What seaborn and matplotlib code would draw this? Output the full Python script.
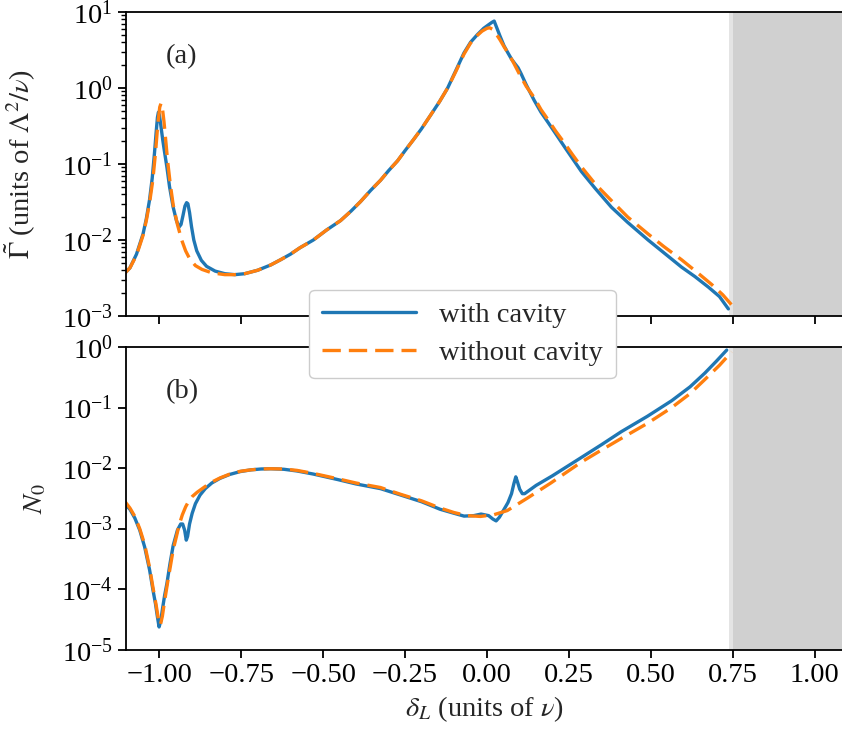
import numpy as np
import pandas as pd
import seaborn as sns
import matplotlib
matplotlib.use("Agg")
import matplotlib.pyplot as plt
from matplotlib.ticker import LogLocator, NullLocator

# ---------------- data ----------------
# Panel (a): Gamma tilde, with cavity
g_cav_x = [-1.107, -1.09, -1.07, -1.05, -1.04, -1.03, -1.022, -1.015, -1.010, -1.006,
           -1.003, -1.000, -0.996, -0.990, -0.985, -0.977, -0.969, -0.958, -0.948, -0.940,
           -0.934, -0.928, -0.922, -0.917, -0.913, -0.908, -0.902, -0.895, -0.886, -0.872,
           -0.856, -0.83, -0.80, -0.77, -0.74, -0.70, -0.66, -0.63, -0.60, -0.571,
           -0.53, -0.49, -0.447, -0.415, -0.386, -0.355, -0.325, -0.30, -0.273, -0.25,
           -0.224, -0.20, -0.172, -0.145, -0.12, -0.095, -0.07, -0.05, -0.03, -0.01,
           0.005, 0.015, 0.022, 0.03, 0.04, 0.052, 0.064, 0.075, 0.085, 0.095,
           0.104, 0.12, 0.144, 0.165, 0.187, 0.21, 0.236, 0.26, 0.288, 0.33,
           0.38, 0.43, 0.492, 0.54, 0.594, 0.635, 0.676, 0.71, 0.737]
g_cav_y = [3.6e-3, 4.3e-3, 6.5e-3, 1.2e-2, 0.019, 0.034, 0.065, 0.14, 0.26, 0.41,
           0.48, 0.44, 0.33, 0.21, 0.15, 0.09, 0.05, 0.027, 0.018, 0.0148,
           0.016, 0.021, 0.028, 0.031, 0.030, 0.023, 0.015, 0.010, 0.0072, 0.0054,
           0.0045, 0.0039, 0.0036, 0.0035, 0.0036, 0.0040, 0.0047, 0.0055, 0.0065, 0.0079,
           0.010, 0.0135, 0.018, 0.024, 0.032, 0.045, 0.061, 0.082, 0.11, 0.15,
           0.21, 0.29, 0.44, 0.66, 1.0, 1.7, 2.9, 4.0, 5.0, 6.1,
           6.8, 7.3, 7.6, 6.2, 4.8, 3.6, 2.9, 2.4, 2.1, 1.85,
           1.55, 1.1, 0.69, 0.48, 0.35, 0.25, 0.17, 0.12, 0.08, 0.048,
           0.027, 0.017, 0.010, 0.0068, 4.4e-3, 3.3e-3, 2.4e-3, 1.8e-3, 1.24e-3]

# Panel (a): Gamma tilde, without cavity
g_free_x = [-1.107, -1.09, -1.07, -1.05, -1.04, -1.03, -1.02, -1.012, -1.005, -0.999,
            -0.995, -0.991, -0.986, -0.980, -0.975, -0.967, -0.958, -0.945, -0.932, -0.92,
            -0.907, -0.89, -0.87, -0.84, -0.80, -0.77, -0.74, -0.70, -0.66, -0.63,
            -0.60, -0.571, -0.53, -0.49, -0.447, -0.415, -0.386, -0.355, -0.325, -0.30,
            -0.273, -0.25, -0.224, -0.20, -0.172, -0.145, -0.12, -0.095, -0.07, -0.05,
            -0.03, -0.015, 0.0, 0.008, 0.018, 0.03, 0.04, 0.052, 0.064, 0.08,
            0.1, 0.12, 0.144, 0.165, 0.187, 0.21, 0.236, 0.26, 0.288, 0.33,
            0.38, 0.43, 0.492, 0.54, 0.594, 0.64, 0.686, 0.72, 0.747]
g_free_y = [3.6e-3, 4.3e-3, 6.3e-3, 1.15e-2, 0.018, 0.031, 0.062, 0.14, 0.33, 0.56,
            0.63, 0.55, 0.36, 0.19, 0.11, 0.055, 0.029, 0.016, 0.010, 0.0072,
            0.0056, 0.0046, 0.0041, 0.0037, 0.0035, 0.0035, 0.0036, 0.0040, 0.0047, 0.0055,
            0.0065, 0.0079, 0.010, 0.0135, 0.018, 0.024, 0.032, 0.045, 0.061, 0.082,
            0.11, 0.15, 0.21, 0.29, 0.44, 0.66, 1.0, 1.65, 2.8, 3.9,
            4.9, 5.6, 6.1, 6.2, 5.9, 5.0, 4.3, 3.5, 2.9, 2.2,
            1.5, 1.05, 0.75, 0.52, 0.38, 0.27, 0.19, 0.135, 0.092, 0.055,
            0.033, 0.020, 0.012, 0.0082, 5.5e-3, 3.8e-3, 2.6e-3, 1.9e-3, 1.4e-3]

# Panel (b): N0, with cavity
n_cav_x = [-1.107, -1.09, -1.075, -1.06, -1.045, -1.03, -1.02, -1.012, -1.006, -1.001,
           -0.996, -0.99, -0.984, -0.977, -0.968, -0.958, -0.945, -0.935, -0.929, -0.923,
           -0.918, -0.914, -0.908, -0.90, -0.89, -0.876, -0.86, -0.84, -0.815, -0.785,
           -0.753, -0.72, -0.69, -0.66, -0.62, -0.58, -0.53, -0.456, -0.40, -0.325,
           -0.263, -0.20, -0.143, -0.10, -0.07, -0.04, -0.018, 0.005, 0.018, 0.028,
           0.038, 0.05, 0.064, 0.075, 0.082, 0.088, 0.093, 0.10, 0.108, 0.115,
           0.15, 0.2, 0.288, 0.35, 0.41, 0.49, 0.564, 0.62, 0.665, 0.70,
           0.732]
n_cav_y = [2.6e-3, 2.1e-3, 1.5e-3, 9.5e-4, 5e-4, 2.1e-4, 1.0e-4, 5.8e-5, 3.5e-5, 2.4e-5,
           3.0e-5, 5e-5, 8e-5, 1.26e-4, 2.6e-4, 5.3e-4, 9.5e-4, 1.2e-3, 1.2e-3, 9.5e-4,
           6.5e-4, 7.5e-4, 1.2e-3, 1.8e-3, 2.6e-3, 3.6e-3, 4.6e-3, 5.7e-3, 6.8e-3, 7.9e-3,
           8.8e-3, 9.4e-3, 9.7e-3, 9.8e-3, 9.6e-3, 9.0e-3, 8.0e-3, 6.5e-3, 5.5e-3, 4.6e-3,
           3.6e-3, 2.8e-3, 2.1e-3, 1.8e-3, 1.62e-3, 1.65e-3, 1.75e-3, 1.65e-3, 1.45e-3, 1.35e-3,
           1.55e-3, 2.0e-3, 2.7e-3, 3.8e-3, 5.5e-3, 7.2e-3, 6.0e-3, 4.5e-3, 3.8e-3, 3.8e-3,
           5.2e-3, 7.5e-3, 0.015, 0.0245, 0.040, 0.072, 0.13, 0.22, 0.37, 0.58,
           0.89]

# Panel (b): N0, without cavity
n_free_x = [-1.107, -1.09, -1.075, -1.06, -1.045, -1.03, -1.02, -1.01, -1.003, -0.997,
            -0.991, -0.984, -0.975, -0.966, -0.958, -0.948, -0.94, -0.93, -0.92, -0.91,
            -0.9, -0.885, -0.86, -0.84, -0.815, -0.785, -0.753, -0.72, -0.69, -0.66,
            -0.62, -0.58, -0.53, -0.456, -0.40, -0.325, -0.263, -0.2, -0.143, -0.10,
            -0.06, -0.02, 0.02, 0.062, 0.123, 0.195, 0.288, 0.35, 0.41, 0.49,
            0.564, 0.62, 0.665, 0.71, 0.747]
n_free_y = [2.9e-3, 2.2e-3, 1.6e-3, 1.0e-3, 5.5e-4, 2.3e-4, 1.1e-4, 5.5e-5, 3.2e-5, 2.6e-5,
            3.6e-5, 6.5e-5, 1.3e-4, 2.5e-4, 4.5e-4, 7.5e-4, 1.15e-3, 1.7e-3, 2.3e-3, 2.9e-3,
            3.4e-3, 4.0e-3, 5.0e-3, 5.9e-3, 6.9e-3, 8.0e-3, 8.9e-3, 9.4e-3, 9.7e-3, 9.8e-3,
            9.7e-3, 9.2e-3, 8.2e-3, 6.7e-3, 5.7e-3, 4.8e-3, 3.7e-3, 2.9e-3, 2.2e-3, 1.85e-3,
            1.65e-3, 1.6e-3, 1.7e-3, 2.0e-3, 3.2e-3, 5.7e-3, 0.0126, 0.020, 0.031, 0.055,
            0.10, 0.17, 0.29, 0.50, 0.83]

x_ticks = [-1.00, -0.75, -0.50, -0.25, 0.00, 0.25, 0.50, 0.75, 1.00]
series_labels = ["with cavity", "without cavity"]
panel_labels = ["(a)", "(b)"]

# ---------------- style ----------------
FS = 20.5
sns.set_theme(style="ticks")
plt.rcParams["font.family"] = ["Liberation Serif", "DejaVu Serif"]
plt.rcParams["mathtext.fontset"] = "stix"
plt.rcParams["font.size"] = FS
plt.rcParams["axes.linewidth"] = 1.3
plt.rcParams["xtick.major.width"] = 1.3
plt.rcParams["ytick.major.width"] = 1.3
plt.rcParams["ytick.minor.width"] = 1.0
plt.rcParams["xtick.major.size"] = 6
plt.rcParams["ytick.major.size"] = 6
plt.rcParams["ytick.minor.size"] = 3.5
plt.rcParams["axes.edgecolor"] = "black"
plt.rcParams["xtick.color"] = "black"
plt.rcParams["ytick.color"] = "black"

BLUE = "#1f77b4"
ORANGE = "#ff7f0e"

fig = plt.figure(figsize=(8.42, 7.40), dpi=100)
W, H = 842.0, 740.0
left_px, right_px = 126.0, 843.0
ax1 = fig.add_axes([left_px / W, 1 - 316 / H, (right_px - left_px) / W, (316 - 12) / H])
ax2 = fig.add_axes([left_px / W, 1 - 650 / H, (right_px - left_px) / W, (650 - 347) / H])

xmin, xmax = -1.102, 1.087

panels = [
    (ax1, g_cav_x, g_cav_y, g_free_x, g_free_y, (1e-3, 1e1)),
    (ax2, n_cav_x, n_cav_y, n_free_x, n_free_y, (1e-5, 1e0)),
]

for i, (ax, cx, cy, fx, fy, ylim) in enumerate(panels):
    ax.axvspan(0.74, 0.75, color="#e4e4e4", lw=0, zorder=0)
    ax.axvspan(0.75, 1.2, color="#d0d0d0", lw=0, zorder=0)
    df_c = pd.DataFrame({"x": cx, "y": cy})
    df_f = pd.DataFrame({"x": fx, "y": fy})
    sns.lineplot(data=df_c, x="x", y="y", ax=ax, color=BLUE, lw=2.4,
                 estimator=None, sort=False, label=series_labels[0], legend=False)
    sns.lineplot(data=df_f, x="x", y="y", ax=ax, color=ORANGE, lw=2.4,
                 estimator=None, sort=False, label=series_labels[1], legend=False)
    ax.lines[-1].set_dashes((5.5, 2.4))
    for ln in ax.lines:
        ln.set_solid_joinstyle("round")
        ln.set_dash_joinstyle("round")
    ax.set_yscale("log")
    ax.set_ylim(*ylim)
    ax.yaxis.set_major_locator(LogLocator(base=10, numticks=12))
    ax.set_xlim(xmin, xmax)
    ax.set_xticks(x_ticks)
    ax.text(0.078, 0.852, panel_labels[i], transform=ax.transAxes,
            ha="center", va="center", fontsize=FS)
    ax.tick_params(axis="both", labelsize=FS)
    ax.set_xlabel("")

ax1.yaxis.set_minor_locator(LogLocator(base=10, subs=np.arange(2, 10) * 1.0, numticks=12))
ax2.yaxis.set_minor_locator(NullLocator())

ax1.tick_params(axis="x", labelbottom=False)
ax2.set_xticklabels([f"{t:.2f}".replace("-", "\u2212") for t in x_ticks])

ax1.set_ylabel(r"$\tilde{\Gamma}$ (units of $\Lambda^2/\nu$)", fontsize=FS)
ax2.set_ylabel(r"$N_0$", fontsize=FS)
ax2.set_xlabel(r"$\delta_L$ (units of $\nu$)", fontsize=FS)
ax1.yaxis.set_label_coords(-0.123, 0.5)
ax2.yaxis.set_label_coords(-0.108, 0.5)

handles = [ax1.lines[0], ax1.lines[1]]
leg = fig.legend(handles, series_labels, loc="center",
                 bbox_to_anchor=(462.5 / W, 1 - 334 / H), fontsize=FS,
                 handlelength=3.3, frameon=True, framealpha=1.0,
                 edgecolor="#cccccc", fancybox=True, borderpad=0.45,
                 labelspacing=0.4, handletextpad=0.8)
leg.set_zorder(10)

fig.savefig("out.png", dpi=100)
